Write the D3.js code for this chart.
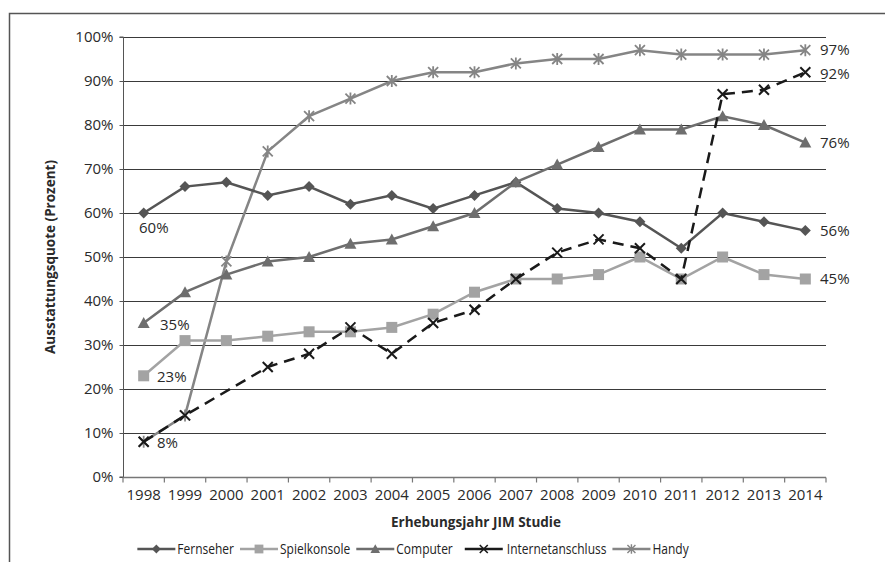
<!DOCTYPE html>
<html><head><meta charset="utf-8">
<script src="https://cdn.jsdelivr.net/npm/d3@7"></script>
<style>
body{margin:0;background:#fff;}
svg{display:block;font-family:"Open Sans","Noto Sans",sans-serif;}
</style></head>
<body><svg id="c" width="885" height="562"></svg>
<script>
const years = ["1998","1999","2000","2001","2002","2003","2004","2005","2006","2007","2008","2009","2010","2011","2012","2013","2014"];
const yTicks = [0,10,20,30,40,50,60,70,80,90,100];
const fernseher = [60,66,67,64,66,62,64,61,64,67,61,60,58,52,60,58,56];
const spielkonsole = [23,31,31,32,33,33,34,37,42,45,45,46,50,45,50,46,45];
const computer = [35,42,46,49,50,53,54,57,60,67,71,75,79,79,82,80,76];
const internet = [8,14,null,25,28,34,28,35,38,45,51,54,52,45,87,88,92];
const handy = [8,14,49,74,82,86,90,92,92,94,95,95,97,96,96,96,97];
const seriesNames = ["Fernseher","Spielkonsole","Computer","Internetanschluss","Handy"];

const svg = d3.select("#c");
const L = 123, R = 826, T = 37, B = 477;
const x = d3.scaleBand().domain(years).range([L, R]);
const y = d3.scaleLinear().domain([0,100]).range([B, T]);
const cx = d => x(d) + x.bandwidth()/2;

// outer frame
svg.append("path").attr("d", `M9.5,600 V13.5 H900`).attr("fill","none").attr("stroke","#555").attr("stroke-width",1.5);

// gridlines
svg.append("g").selectAll("line").data(yTicks.filter(v=>v>0)).join("line")
  .attr("x1", L).attr("x2", R).attr("y1", d=>Math.round(y(d))+0.5).attr("y2", d=>Math.round(y(d))+0.5)
  .attr("stroke","#3a3a3a").attr("stroke-width",1);

// y axis
const ya = svg.append("g").attr("transform",`translate(${L+0.5},0)`)
  .call(d3.axisLeft(y).tickValues(yTicks).tickFormat(d=>d+"%").tickSize(4).tickPadding(6));
ya.select(".domain").attr("stroke","#555").attr("d",`M-4,${B}H0V${T}H-4`);
ya.selectAll(".tick line").attr("stroke","#555");
ya.selectAll("text").attr("font-size",15).attr("fill","#2a2a2a").attr("font-family","'Open Sans',sans-serif");

// x axis
const xa = svg.append("g").attr("transform",`translate(0,${B+0.5})`)
  .call(d3.axisBottom(x).tickSize(0).tickPadding(12));
xa.select(".domain").attr("stroke","#777").attr("stroke-width",1.5).attr("d",`M${L},0H${R}`);
xa.selectAll("text").attr("font-size",15).attr("fill","#2a2a2a").attr("font-family","'Open Sans',sans-serif");
xa.append("g").selectAll("line").data(d3.range(years.length+1)).join("line")
  .attr("x1", i=>L + i*x.step()).attr("x2", i=>L + i*x.step()).attr("y1",0).attr("y2",5)
  .attr("stroke","#777").attr("stroke-width",1.2);

// titles
svg.append("text").attr("transform",`translate(55,${(T+B)/2}) rotate(-90)`).attr("text-anchor","middle")
  .attr("font-size",13.5).attr("font-weight","bold").attr("fill","#2a2a2a").text("Ausstattungsquote (Prozent)");
svg.append("text").attr("x",476).attr("y",527).attr("text-anchor","middle")
  .attr("font-size",13.5).attr("font-weight","bold").attr("fill","#2a2a2a").text("Erhebungsjahr JIM Studie");

// marker drawers
function marker(g, type, color){
  if(type==="diamond"){
    g.append("path").attr("d","M0,-5.5L5.5,0L0,5.5L-5.5,0Z").attr("fill",color);
  } else if(type==="square"){
    g.append("rect").attr("x",-5.5).attr("y",-5.5).attr("width",11).attr("height",11).attr("fill",color);
  } else if(type==="triangle"){
    g.append("path").attr("d","M0,-6L6,5L-6,5Z").attr("fill",color);
  } else if(type==="x"){
    g.append("path").attr("d","M-5,-5L5,5M-5,5L5,-5").attr("stroke",color).attr("stroke-width",2).attr("fill","none");
  } else if(type==="star"){
    g.append("path").attr("d","M-5,-5L5,5M-5,5L5,-5M0,-6V6").attr("stroke",color).attr("stroke-width",1.8).attr("fill","none");
  }
}

const series = [
  {name:seriesNames[0], vals:fernseher, color:"#555555", marker:"diamond", dash:null},
  {name:seriesNames[1], vals:spielkonsole, color:"#a3a3a3", marker:"square", dash:null},
  {name:seriesNames[2], vals:computer, color:"#6e6e6e", marker:"triangle", dash:null},
  {name:seriesNames[3], vals:internet, color:"#1a1a1a", marker:"x", dash:"11,7"},
  {name:seriesNames[4], vals:handy, color:"#858585", marker:"star", dash:null}
];
const drawOrder = [4,0,2,1,3];
const line = d3.line().x(d=>cx(d.year)).y(d=>y(d.v));
drawOrder.forEach(i=>{
  const s = series[i];
  const pts = years.map((yr,j)=>({year:yr, v:s.vals[j]})).filter(d=>d.v!=null);
  svg.append("path").datum(pts).attr("d",line).attr("fill","none").attr("stroke",s.color)
    .attr("stroke-width",2.5).attr("stroke-dasharray",s.dash);
  pts.forEach(p=>{
    const g = svg.append("g").attr("transform",`translate(${cx(p.year)},${y(p.v)})`);
    marker(g, s.marker, s.color);
  });
});

// value labels
const lab = (t,xx,yy)=>svg.append("text").attr("x",xx).attr("y",yy).attr("dy","0.35em")
  .attr("font-size",15).attr("fill","#2a2a2a").text(t);
lab(fernseher[0]+"%", 139, y(fernseher[0])+15);
lab(computer[0]+"%", 160, y(computer[0])+2);
lab(spielkonsole[0]+"%", 157, y(spielkonsole[0])+1);
lab(internet[0]+"%", 157, y(internet[0])+1);
const last = years.length-1;
lab(handy[last]+"%", 820, y(handy[last]));
lab(internet[last]+"%", 820, y(internet[last])+2);
lab(computer[last]+"%", 820, y(computer[last]));
lab(fernseher[last]+"%", 820, y(fernseher[last]));
lab(spielkonsole[last]+"%", 820, y(spielkonsole[last]));

// legend (condensed text via horizontal scale)
const sx = 0.8;
const leg = svg.append("g");
let xpos = 0;
series.forEach((s,i)=>{
  const g = leg.append("g").attr("transform",`translate(${xpos},0)`);
  g.append("line").attr("x1",0).attr("x2",38).attr("y1",0).attr("y2",0).attr("stroke",s.color).attr("stroke-width",2.5);
  const mg = g.append("g").attr("transform","translate(19,0) scale(0.8)");
  marker(mg, s.marker, s.color);
  const tx = i===3 ? 42 : 40;
  const t = g.append("text").attr("transform",`translate(${tx},0) scale(${sx},1)`).attr("dy","0.35em")
    .attr("font-size",15).attr("fill","#222")
    .attr("font-family","'Open Sans',sans-serif").text(s.name);
  xpos += tx + sx*t.node().getComputedTextLength() + (i===2 ? 12 : 6);
});
const totalW = xpos - 6;
leg.attr("transform",`translate(${(140+686)/2 - totalW/2},549)`);
</script></body></html>
